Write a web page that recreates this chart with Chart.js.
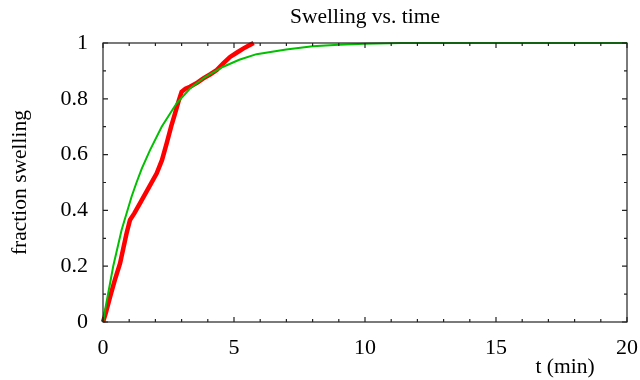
<!DOCTYPE html>
<html>
<head>
<meta charset="utf-8">
<script src="https://cdn.jsdelivr.net/npm/chart.js@4/dist/chart.umd.min.js"></script>
<style>
  html, body { margin: 0; padding: 0; background: #fff; }
  #wrap { width: 640px; height: 380px; position: relative; }
</style>
</head>
<body>
<div id="wrap"><canvas id="chartdiv"></canvas></div>
<script>
// red series (measured)
var redT = [0, 0.1, 0.27, 0.45, 0.65, 0.9, 1.03, 1.2, 1.41, 1.73, 2.05, 2.25, 2.43, 2.6, 2.75, 2.88, 3.0, 3.15, 3.32, 3.6, 3.83, 4.1, 4.34, 4.6, 4.85, 5.1, 5.35, 5.55, 5.75];
var redF = [0, 0.03, 0.09, 0.15, 0.21, 0.318, 0.366, 0.39, 0.425, 0.479, 0.533, 0.58, 0.64, 0.70, 0.748, 0.79, 0.825, 0.836, 0.843, 0.858, 0.873, 0.888, 0.903, 0.928, 0.95, 0.965, 0.98, 0.99, 1.0];

// green series (model)
var greenT = [0, 0.08, 0.39, 0.71, 1.09, 1.28, 1.48, 1.79, 2.24, 2.81, 3.32, 3.9, 4.59, 5.2, 5.86, 6.99, 8.0, 9.0, 10.0, 11.4, 20];
var greenF = [0, 0.043, 0.2, 0.33, 0.449, 0.5, 0.55, 0.615, 0.7, 0.784, 0.837, 0.878, 0.915, 0.94, 0.96, 0.977, 0.988, 0.994, 0.997, 1.0, 1.0];

var xTicks = [0, 5, 10, 15, 20];
var xMinor = [1, 2, 3, 4, 6, 7, 8, 9, 11, 12, 13, 14, 16, 17, 18, 19];
var yTicks = [0, 0.2, 0.4, 0.6, 0.8, 1];
var yTickLabels = ['0', '0.2', '0.4', '0.6', '0.8', '1'];
var yMinor = [0.1, 0.3, 0.5, 0.7, 0.9];

var chartTitle = 'Swelling vs. time';
var xTitle = 't (min)';
var yTitle = 'fraction swelling';

var serif = '"Liberation Serif", "DejaVu Serif", serif';

function pts(xs, ys) {
    var out = [];
    for (var i = 0; i < xs.length; i++) out.push({x: xs[i], y: ys[i]});
    return out;
}

// frame, inward ticks, title and x label drawn after the chart
var framePlugin = {
    id: 'frame',
    afterDraw: function(chart) {
        var c = chart.ctx, a = chart.chartArea;
        var sx = chart.scales.x, sy = chart.scales.y;
        c.save();
        c.strokeStyle = '#222';
        c.lineWidth = 1.2;
        c.strokeRect(a.left, a.top, a.right - a.left, a.bottom - a.top);
        c.beginPath();
        function tx(v, len) {
            var p = sx.getPixelForValue(v);
            c.moveTo(p, a.bottom); c.lineTo(p, a.bottom - len);
            c.moveTo(p, a.top); c.lineTo(p, a.top + len);
        }
        function ty(v, len) {
            var p = sy.getPixelForValue(v);
            c.moveTo(a.left, p); c.lineTo(a.left + len, p);
            c.moveTo(a.right, p); c.lineTo(a.right - len, p);
        }
        xTicks.forEach(function(v) { tx(v, 5); });
        xMinor.forEach(function(v) { tx(v, 3); });
        yTicks.forEach(function(v) { ty(v, 5); });
        yMinor.forEach(function(v) { ty(v, 3); });
        c.stroke();

        c.fillStyle = '#000';
        c.font = '21.5px ' + serif;
        c.textAlign = 'center';
        c.textBaseline = 'middle';
        c.fillText(chartTitle, (a.left + a.right) / 2, 17);
        c.fillText(xTitle, 565, 367);
        c.restore();
    }
};

var ctx1 = document.getElementById('chartdiv');
var lineChart = new Chart(ctx1, {
    type: 'scatter',
    data: {
        datasets: [
            {
                label: 'model',
                data: pts(greenT, greenF),
                showLine: true,
                borderColor: '#00c000',
                borderWidth: 2,
                pointRadius: 0,
                fill: false
            },
            {
                label: 'measured',
                data: pts(redT, redF),
                showLine: true,
                borderColor: '#ff0000',
                borderWidth: 4.5,
                pointRadius: 0,
                fill: false
            }
        ]
    },
    plugins: [framePlugin],
    options: {
        responsive: true,
        maintainAspectRatio: false,
        animation: false,
        clip: false,
        layout: { padding: { top: 43, right: 13, left: 0, bottom: 0 } },
        plugins: {
            legend: { display: false },
            tooltip: { enabled: false },
            title: { display: false }
        },
        scales: {
            x: {
                type: 'linear',
                min: 0, max: 20,
                afterBuildTicks: function(scale) {
                    scale.ticks = xTicks.map(function(v) { return {value: v}; });
                },
                afterFit: function(scale) {
                    scale.height = 58;
                    scale.paddingLeft = 0;
                    scale.paddingRight = 0;
                },
                grid: { display: false, drawTicks: false },
                border: { display: false },
                ticks: {
                    color: '#000',
                    padding: 13,
                    maxRotation: 0,
                    font: { family: serif, size: 22 },
                    callback: function(v) { return String(v); }
                }
            },
            y: {
                type: 'linear',
                min: 0, max: 1,
                afterBuildTicks: function(scale) {
                    scale.ticks = yTicks.map(function(v) { return {value: v}; });
                },
                afterFit: function(scale) { scale.width = 103; },
                grid: { display: false, drawTicks: false },
                border: { display: false },
                title: {
                    display: true,
                    text: yTitle,
                    color: '#000',
                    font: { family: serif, size: 21.5 },
                    padding: { top: 7, bottom: 0 }
                },
                ticks: {
                    color: '#000',
                    padding: 15,
                    font: { family: serif, size: 22 },
                    callback: function(v) {
                        var i = yTicks.indexOf(v);
                        return i >= 0 ? yTickLabels[i] : '';
                    }
                }
            }
        }
    }
});
</script>
</body>
</html>
